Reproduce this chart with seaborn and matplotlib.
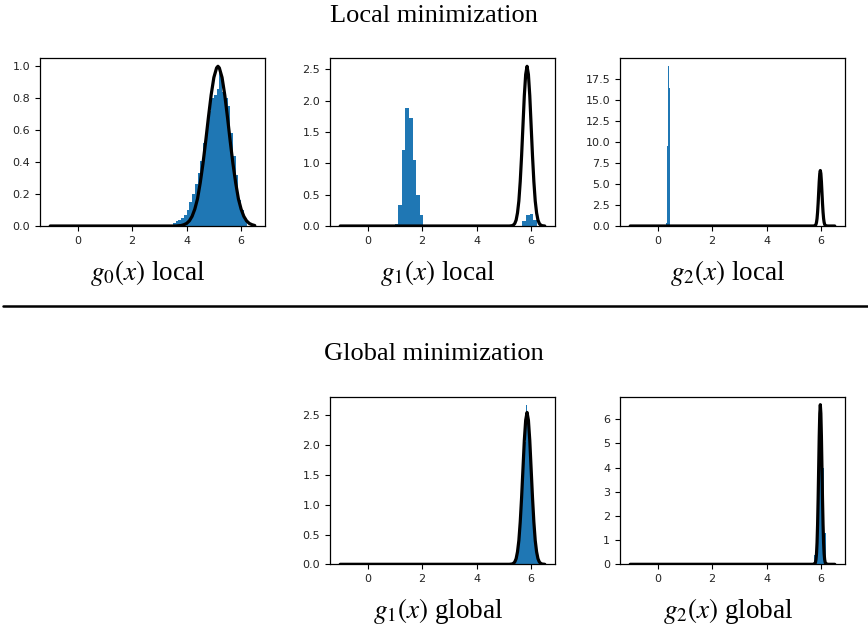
import numpy as np
import pandas as pd
import matplotlib
matplotlib.use("Agg")
import matplotlib.pyplot as plt
from matplotlib.lines import Line2D
import seaborn as sns

# ---------------------------------------------------------------
# data
# ---------------------------------------------------------------
BLUE = "#1f77b4"

# target density curves (x, y)
curve_g0_x = [-1.0, 3.4, 3.6, 3.8, 3.9, 4.0, 4.1, 4.2, 4.3, 4.4, 4.5, 4.6, 4.7, 4.8, 4.9, 5.0,
              5.1, 5.15, 5.2, 5.3, 5.4, 5.5, 5.6, 5.7, 5.8, 5.9, 6.0, 6.1, 6.2, 6.3, 6.4, 6.5]
curve_g0_y = [0.0, 0.0, 0.0, 0.003, 0.008, 0.016, 0.032, 0.06, 0.105, 0.17, 0.27, 0.39, 0.53, 0.68, 0.82, 0.93,
              0.99, 1.0, 0.99, 0.93, 0.82, 0.68, 0.53, 0.39, 0.27, 0.17, 0.105, 0.06, 0.032, 0.016, 0.008, 0.003]

curve_g1_x = [-1.0, 5.2, 5.3, 5.35, 5.4, 5.45, 5.5, 5.55, 5.6, 5.65, 5.7, 5.75, 5.8, 5.85,
              5.9, 5.95, 6.0, 6.05, 6.1, 6.15, 6.2, 6.25, 6.3, 6.35, 6.4, 6.5]
curve_g1_y = [0.0, 0.0, 0.005, 0.015, 0.04, 0.095, 0.21, 0.40, 0.71, 1.12, 1.60, 2.08, 2.42, 2.55,
              2.42, 2.08, 1.60, 1.12, 0.71, 0.40, 0.21, 0.095, 0.04, 0.015, 0.005, 0.0]

curve_g2_x = [-1.0, 5.7, 5.77, 5.79, 5.81, 5.83, 5.85, 5.87, 5.89, 5.91, 5.93, 5.95, 5.97,
              5.99, 6.01, 6.03, 6.05, 6.07, 6.09, 6.11, 6.13, 6.15, 6.17, 6.25, 6.5]
curve_g2_y = [0.0, 0.0, 0.025, 0.07, 0.19, 0.43, 0.89, 1.65, 2.71, 4.0, 5.29, 6.24, 6.6,
              6.24, 5.29, 4.0, 2.71, 1.65, 0.89, 0.43, 0.19, 0.07, 0.025, 0.0, 0.0]

# histogram bins: left edges, common width, density heights
g0_local_left = [3.5, 3.6, 3.7, 3.8, 3.9, 4.0, 4.1, 4.2, 4.3, 4.4, 4.5, 4.6, 4.7, 4.8, 4.9,
                 5.0, 5.1, 5.2, 5.3, 5.4, 5.5, 5.6, 5.7, 5.8, 5.9, 6.0, 6.1]
g0_local_h = [0.02, 0.03, 0.04, 0.05, 0.07, 0.10, 0.15, 0.20, 0.26, 0.33, 0.41, 0.52, 0.62, 0.72, 0.80,
              0.82, 0.86, 0.96, 0.84, 0.80, 0.75, 0.58, 0.44, 0.32, 0.16, 0.10, 0.04]
g0_local_w = 0.1

g1_local_left = [1.0, 1.13, 1.26, 1.39, 1.52, 1.65, 1.78, 1.91, 5.68, 5.81, 5.94, 6.07]
g1_local_h = [0.03, 0.34, 1.21, 1.88, 1.72, 1.05, 0.49, 0.17, 0.08, 0.17, 0.19, 0.10]
g1_local_w = 0.13

g2_local_left = [0.30, 0.335, 0.37, 0.405, 0.44]
g2_local_h = [0.3, 9.5, 19.0, 16.4, 1.8]
g2_local_w = 0.035

g1_global_left = [5.38, 5.42, 5.46, 5.50, 5.54, 5.58, 5.62, 5.66, 5.70, 5.74, 5.78, 5.82,
                  5.86, 5.90, 5.94, 5.98, 6.02, 6.06, 6.10, 6.14, 6.18, 6.22, 6.26, 6.30]
g1_global_h = [0.04, 0.08, 0.15, 0.27, 0.45, 0.71, 1.03, 1.41, 1.80, 2.16, 2.05, 2.68,
               2.50, 2.30, 1.99, 1.60, 1.21, 0.86, 0.57, 0.35, 0.21, 0.11, 0.06, 0.03]
g1_global_w = 0.04

g2_global_left = [5.74, 5.83, 5.92, 6.01, 6.10]
g2_global_h = [0.39, 3.2, 6.4, 4.0, 1.30]
g2_global_w = 0.09

x_ticks = [0, 2, 4, 6]
yt_g0 = [0.0, 0.2, 0.4, 0.6, 0.8, 1.0]
yt_g1 = [0.0, 0.5, 1.0, 1.5, 2.0, 2.5]
yt_g2_local = [0.0, 2.5, 5.0, 7.5, 10.0, 12.5, 15.0, 17.5]
yt_g2_global = [0, 1, 2, 3, 4, 5, 6]

# ---------------------------------------------------------------
# style
# ---------------------------------------------------------------
sns.set_style("ticks")
plt.rcParams["mathtext.fontset"] = "stix"
plt.rcParams["font.family"] = ["DejaVu Sans"]

fig = plt.figure(figsize=(8.68, 6.31), dpi=100)
W, H = 868.0, 631.0


def panel(left_px, top_px, bottom_px, lefts, heights, width, cx, cy, yticks, label):
    ax = fig.add_axes([left_px / W, 1 - bottom_px / H, 225 / W, (bottom_px - top_px) / H])
    lefts = np.array(lefts, dtype=float)
    edges = np.unique(np.round(np.concatenate([lefts, lefts + width]), 6)).tolist()
    hist_df = pd.DataFrame({"x": lefts + width / 2, "w": np.array(heights, dtype=float)})
    sns.histplot(data=hist_df, x="x", weights="w", bins=edges, ax=ax, color=BLUE,
                 alpha=1, linewidth=0)
    curve_df = pd.DataFrame({"x": cx, "y": cy})
    sns.lineplot(data=curve_df, x="x", y="y", ax=ax, color="black", linewidth=2.3)
    ax.set_xlabel("")
    ax.set_ylabel("")
    ax.set_xticks(x_ticks)
    ax.set_yticks(yticks)
    if isinstance(yticks[0], float):
        ax.set_yticklabels([f"{v:.1f}" for v in yticks])
    ax.margins(x=0.05)
    ax.tick_params(labelsize=8, length=3.5, width=0.8, colors="black", labelcolor="#222222")
    for s in ax.spines.values():
        s.set_linewidth(0.9)
        s.set_color("black")
    fig.text((left_px + 108) / W, 1 - (bottom_px + 47) / H, label, color="black",
             ha="center", va="center", fontsize=19.5, family="Liberation Serif")
    return ax


panel(40, 58.3, 226, g0_local_left, g0_local_h, g0_local_w, curve_g0_x, curve_g0_y, yt_g0,
      r"$g_0(x)$ local")
panel(330, 58.3, 226, g1_local_left, g1_local_h, g1_local_w, curve_g1_x, curve_g1_y, yt_g1,
      r"$g_1(x)$ local")
panel(620, 58.3, 226, g2_local_left, g2_local_h, g2_local_w, curve_g2_x, curve_g2_y, yt_g2_local,
      r"$g_2(x)$ local")
panel(330, 396.7, 564.3, g1_global_left, g1_global_h, g1_global_w, curve_g1_x, curve_g1_y, yt_g1,
      r"$g_1(x)$ global")
panel(620, 396.7, 564.3, g2_global_left, g2_global_h, g2_global_w, curve_g2_x, curve_g2_y, yt_g2_global,
      r"$g_2(x)$ global")

fig.text(0.5, 1 - 16 / H, "Local minimization", ha="center", va="center", color="black",
         fontsize=19, family="Liberation Serif")
fig.text(0.5, 1 - 354 / H, "Global minimization", ha="center", va="center", color="black",
         fontsize=19, family="Liberation Serif")
fig.add_artist(Line2D([0.003, 1.0], [1 - 306 / H, 1 - 306 / H], transform=fig.transFigure,
                      color="black", linewidth=1.8))

fig.savefig("out.png", dpi=100)
